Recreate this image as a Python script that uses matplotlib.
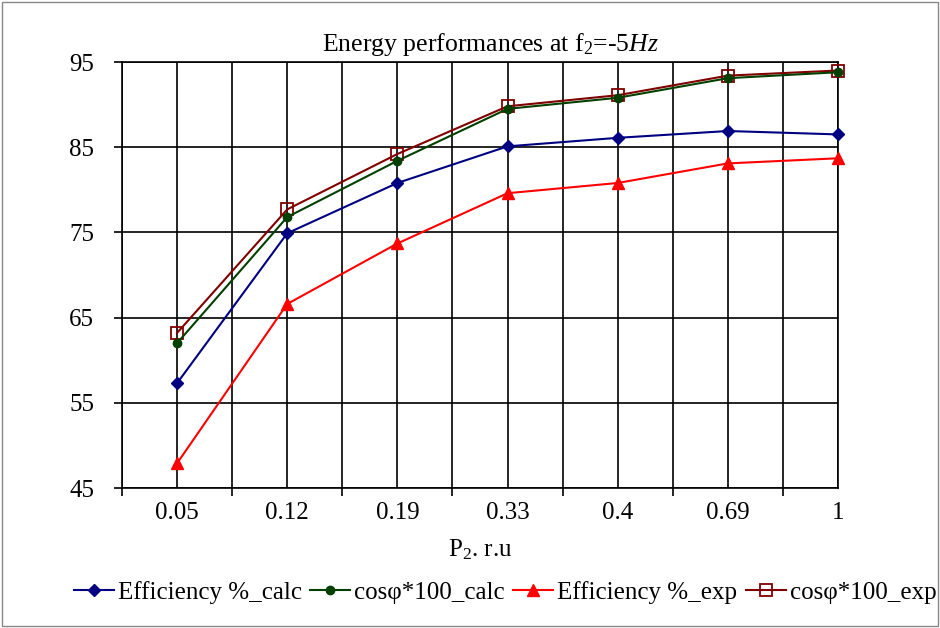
import matplotlib
matplotlib.use("Agg")
import matplotlib.pyplot as plt
from matplotlib.patches import Rectangle
import numpy as np

plt.rcParams['font.family'] = ['Liberation Serif', 'DejaVu Serif']
plt.rcParams['mathtext.fontset'] = 'custom'
plt.rcParams['mathtext.rm'] = 'Liberation Serif'
plt.rcParams['mathtext.it'] = 'Liberation Serif:italic'

categories = ['0.05', '0.12', '0.19', '0.33', '0.4', '0.69', '1']
eff_calc = [57.3, 74.9, 80.8, 85.1, 86.1, 86.9, 86.5]
cos_calc = [62.0, 76.8, 83.4, 89.5, 90.8, 93.1, 93.8]
eff_exp = [47.9, 66.6, 73.7, 79.6, 80.8, 83.1, 83.7]
cos_exp = [63.2, 77.7, 84.2, 89.8, 91.1, 93.4, 94.0]

fig = plt.figure(figsize=(9.4, 6.28), dpi=100)
ax = fig.add_axes([122/940, 1-488/628, (838-122)/940, (488-62)/628])

x = np.arange(len(categories))
ax.plot(x, eff_calc, color='#000080', marker='D', ms=6, lw=1.5, label='Efficiency %_calc', clip_on=False, zorder=4)
ax.plot(x, cos_calc, color='#004000', marker='o', ms=6, lw=1.5, label='cosφ*100_calc', clip_on=False, zorder=4)
ax.plot(x, eff_exp, color='#ff0000', marker='^', ms=8, lw=1.5, label='Efficiency %_exp', clip_on=False, zorder=4)
ax.plot(x, cos_exp, color='#800000', marker='s', ms=8, mfc='none', mew=1.3, lw=1.5, label='cosφ*100_exp', clip_on=False, zorder=3)

ax.set_xlim(-0.5, len(categories) - 1)
ax.set_ylim(45, 95)
ax.set_yticks(np.arange(45, 96, 10))
ax.set_xticks(x)
ax.set_xticklabels(categories)
ax.set_xticks(np.arange(-0.5, len(categories) - 1, 1.0), minor=True)
ax.tick_params(axis='x', which='major', length=0, pad=10, labelsize=18)
ax.tick_params(axis='x', which='minor', length=6, width=1.2, direction='out')
ax.tick_params(axis='y', length=6, width=1.2, direction='out', labelsize=18, pad=14)
ax.grid(True, which='major', color='black', lw=1.2)
ax.grid(True, which='minor', axis='x', color='black', lw=1.2)
for s in ax.spines.values():
    s.set_color('black')
    s.set_linewidth(1.2)

ax.set_title('Energy performances at f$_2$=-5$\\mathit{Hz}$', fontsize=18.5, pad=8, x=0.515)
ax.set_xlabel('P$_2$. r.u', fontsize=18, labelpad=10)

ax.legend(loc='center', bbox_to_anchor=(0.535, -0.245), ncol=4, frameon=False,
          fontsize=18, handlelength=1.6, handletextpad=0.15, columnspacing=0.35)

fig.patches.append(Rectangle((0.002, 0.003), 0.996, 0.994, transform=fig.transFigure,
                             fill=False, edgecolor='#888888', lw=1))

fig.savefig('out.png', dpi=100)
